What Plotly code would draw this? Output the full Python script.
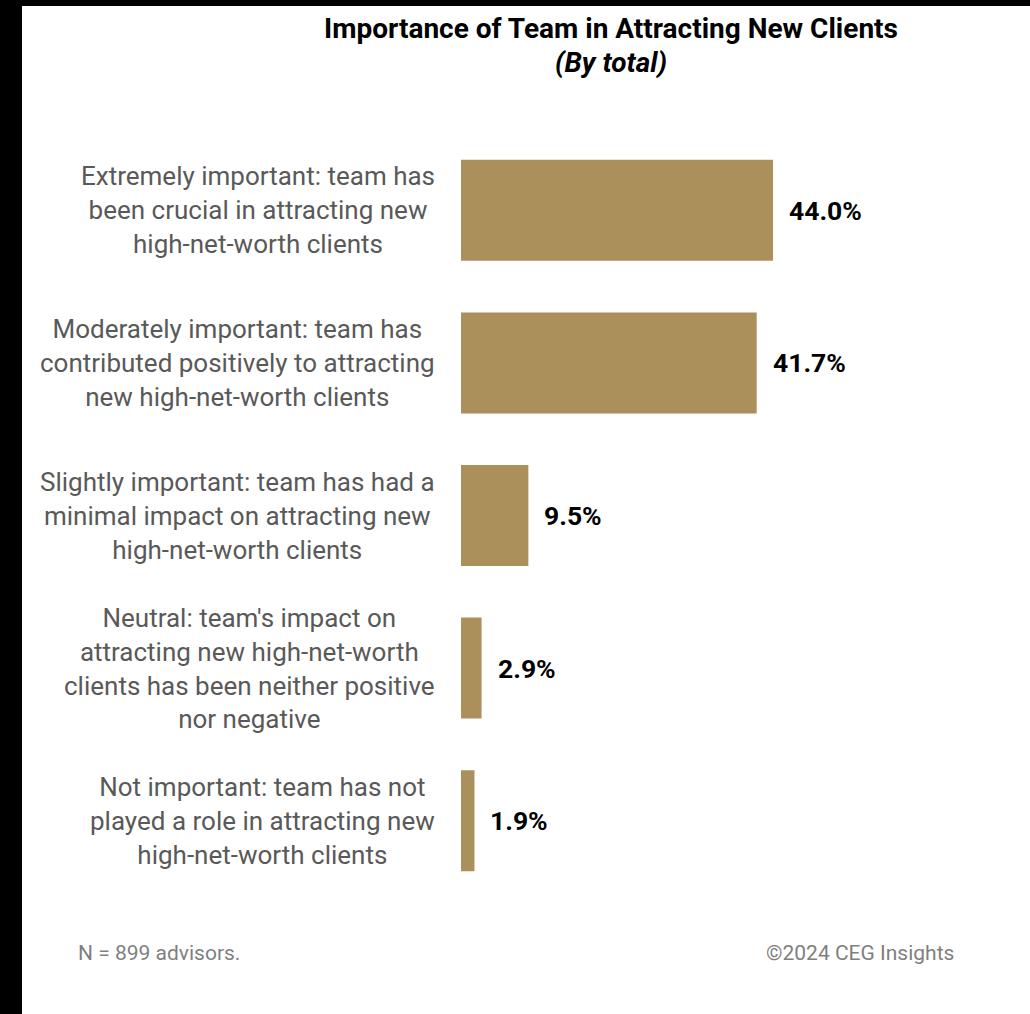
import plotly.graph_objects as go

categories = [
    "Extremely important: team has<br>been crucial in attracting new<br>high-net-worth clients",
    "Moderately important: team has<br>contributed positively to attracting<br>new high-net-worth clients",
    "Slightly important: team has had a<br>minimal impact on attracting new<br>high-net-worth clients",
    "Neutral: team's impact on<br>attracting new high-net-worth<br>clients has been neither positive<br>nor negative",
    "Not important: team has not<br>played a role in attracting new<br>high-net-worth clients",
]
values = [44.0, 41.7, 9.5, 2.9, 1.9]
value_labels = ["44.0%", "41.7%", "9.5%", "2.9%", "1.9%"]

W, H = 1030, 1014
L, R, T, B = 461, 955, 134, 897
BAR_COLOR = "#AB905C"
FONT = "Roboto"


def px(x):
    return (x - L) / (R - L)


def py(y):
    return (B - y) / (B - T)


fig = go.Figure()
fig.add_trace(go.Bar(
    x=values, y=categories, orientation="h",
    marker=dict(color=BAR_COLOR, line=dict(width=0)),
    width=0.662, hoverinfo="skip",
))

ann = []
for c, v, t in zip(categories, values, value_labels):
    ann.append(dict(x=v, y=c, xref="x", yref="y", text="<b>%s</b>" % t,
                    showarrow=False, xanchor="left", xshift=14,
                    font=dict(family=FONT, size=26.5, color="#000000")))
    ann.append(dict(x=px(437), y=c, xref="paper", yref="y", text=c,
                    showarrow=False, xanchor="right", align="center",
                    font=dict(family=FONT, size=26, color="#595959")))

ann.append(dict(x=px(611), y=py(29), xref="paper", yref="paper",
                text="<b>Importance of Team in Attracting New Clients</b>",
                showarrow=False, xanchor="center", yanchor="middle",
                font=dict(family=FONT, size=28, color="#000000")))
ann.append(dict(x=px(611), y=py(62), xref="paper", yref="paper",
                text="<b><i>(By total)</i></b>",
                showarrow=False, xanchor="center", yanchor="middle",
                font=dict(family=FONT, size=28, color="#000000")))
ann.append(dict(x=px(76), y=py(953), xref="paper", yref="paper",
                text="N = 899 advisors.", showarrow=False,
                xanchor="left", yanchor="middle",
                font=dict(family=FONT, size=21, color="#7f7f7f")))
ann.append(dict(x=px(956), y=py(953), xref="paper", yref="paper",
                text="©2024 CEG Insights", showarrow=False,
                xanchor="right", yanchor="middle",
                font=dict(family=FONT, size=21, color="#7f7f7f")))

shapes = [
    dict(type="rect", xref="paper", yref="paper", x0=px(0), x1=px(22),
         y0=py(H), y1=py(0), fillcolor="#000000", line=dict(width=0), layer="above"),
    dict(type="rect", xref="paper", yref="paper", x0=px(0), x1=px(W),
         y0=py(6), y1=py(0), fillcolor="#000000", line=dict(width=0), layer="above"),
]

fig.update_layout(
    width=W, height=H,
    margin=dict(l=L, r=W - R, t=T, b=H - B, pad=0),
    paper_bgcolor="#ffffff", plot_bgcolor="#ffffff",
    showlegend=False,
    xaxis=dict(range=[0, (R - L) / (312 / 44.0)], visible=False, fixedrange=True),
    yaxis=dict(categoryorder="array", categoryarray=categories[::-1],
               showticklabels=False, showgrid=False, zeroline=False,
               showline=False, ticks="", fixedrange=True),
    annotations=ann, shapes=shapes,
    font=dict(family=FONT),
)

fig.write_html("out.html", config={"displayModeBar": False})
